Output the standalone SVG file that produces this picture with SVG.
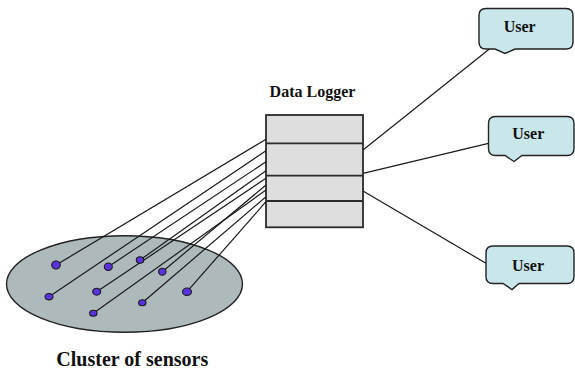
<svg xmlns="http://www.w3.org/2000/svg" width="575" height="371" viewBox="0 0 575 371">
  <style>
    .wire { stroke: #1a1a1a; stroke-width: 1.2; fill: none; }
    .logger { fill: #dedede; stroke: #2b2b2b; stroke-width: 1.8; }
    .divider { stroke: #2b2b2b; stroke-width: 1.8; }
    .cluster { fill: #adb9bb; stroke: #222; stroke-width: 1.4; }
    .sensor { fill: #5b33dd; stroke: #1a1a1a; stroke-width: 1.1; }
    .callout { fill: #c9e6ea; stroke: #222; stroke-width: 1.4; }
    .label { font-family: "Liberation Serif", "Times New Roman", serif; font-weight: bold; fill: #111; text-anchor: middle; }
  </style>

  <rect width="575" height="371" fill="#ffffff"/>

  <!-- sensor field -->
  <g id="cluster">
    <ellipse class="cluster" cx="124.5" cy="284" rx="118" ry="48.3"/>
    <text class="label" x="132.3" y="365.5" font-size="20">Cluster of sensors</text>
  </g>

  <!-- data logger with four slots -->
  <g id="data-logger">
    <rect class="logger" x="266" y="115" width="97" height="112.3"/>
    <line class="divider" x1="266" y1="143.3" x2="363" y2="143.3"/>
    <line class="divider" x1="266" y1="175.7" x2="363" y2="175.7"/>
    <line class="divider" x1="266" y1="201" x2="363" y2="201"/>
    <text class="label" x="312.5" y="96.5" font-size="16">Data Logger</text>
  </g>

  <!-- links: sensors to logger, logger to users -->
  <g id="connectors">
    <line class="wire" x1="56" y1="265" x2="266" y2="139.3"/>
    <line class="wire" x1="49" y1="296.7" x2="266" y2="150.7"/>
    <line class="wire" x1="108.3" y1="266.7" x2="266" y2="161.7"/>
    <line class="wire" x1="140" y1="260" x2="266" y2="170.7"/>
    <line class="wire" x1="96.7" y1="291.7" x2="266" y2="178.3"/>
    <line class="wire" x1="162.3" y1="271.7" x2="266" y2="185"/>
    <line class="wire" x1="93.3" y1="313.3" x2="266" y2="190"/>
    <line class="wire" x1="142.3" y1="302.7" x2="266" y2="196.7"/>
    <line class="wire" x1="187" y1="291.7" x2="266" y2="201.7"/>

    <line class="wire" x1="363" y1="150" x2="490" y2="48.5"/>
    <line class="wire" x1="363" y1="173.3" x2="488.5" y2="143.3"/>
    <line class="wire" x1="363" y1="191" x2="486" y2="263.3"/>
  </g>

  <!-- sensor nodes -->
  <g id="sensors">
    <ellipse id="sensor-1" class="sensor" cx="56" cy="265" rx="4.3" ry="4"/>
    <ellipse id="sensor-2" class="sensor" cx="108.3" cy="266.7" rx="4" ry="3.7"/>
    <ellipse id="sensor-3" class="sensor" cx="140" cy="260" rx="3.7" ry="3.2"/>
    <ellipse id="sensor-4" class="sensor" cx="162.3" cy="271.7" rx="3.7" ry="3.5"/>
    <ellipse id="sensor-5" class="sensor" cx="49" cy="296.7" rx="4" ry="3.2"/>
    <ellipse id="sensor-6" class="sensor" cx="96.7" cy="291.7" rx="4" ry="3.5"/>
    <ellipse id="sensor-7" class="sensor" cx="187" cy="291.7" rx="4.5" ry="3.7"/>
    <ellipse id="sensor-8" class="sensor" cx="142.3" cy="302.7" rx="3.7" ry="3"/>
    <ellipse id="sensor-9" class="sensor" cx="93.3" cy="313.3" rx="3.7" ry="3"/>
  </g>

  <!-- user speech bubbles -->
  <g id="user-1">
    <path class="callout" d="M486,8.5 H566 Q573,8.5 573,15.5 V42 Q573,49 566,49 H515 L505,53.5 L495,49 H486 Q479,49 479,42 V15.5 Q479,8.5 486,8.5 Z"/>
    <text class="label" x="519.7" y="31.5" font-size="16">User</text>
  </g>
  <g id="user-2">
    <path class="callout" d="M495.5,116.5 H567 Q574,116.5 574,123.5 V148.5 Q574,155.5 567,155.5 H522 L514,161.5 L505,155.5 H495.5 Q488.5,155.5 488.5,148.5 V123.5 Q488.5,116.5 495.5,116.5 Z"/>
    <text class="label" x="528.3" y="139" font-size="16">User</text>
  </g>
  <g id="user-3">
    <path class="callout" d="M493,246 H567 Q574,246 574,253 V276.5 Q574,283.5 567,283.5 H519 L512,289.5 L503,283.5 H493 Q486,283.5 486,276.5 V253 Q486,246 493,246 Z"/>
    <text class="label" x="528" y="270.5" font-size="16">User</text>
  </g>
</svg>
